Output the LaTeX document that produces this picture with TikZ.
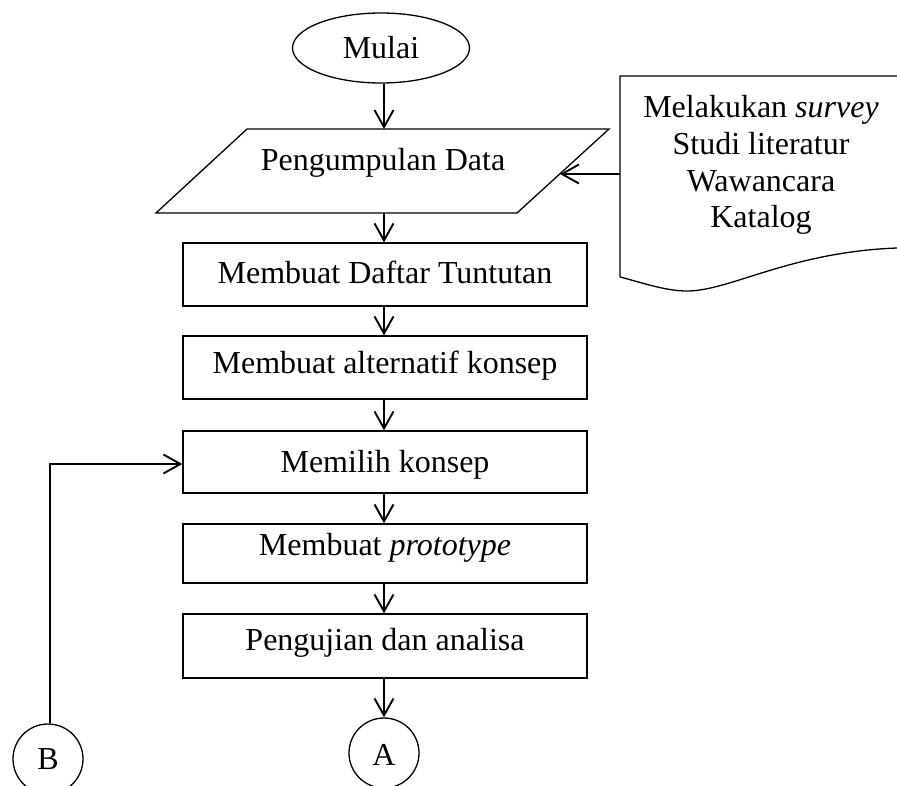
\documentclass[tikz,border=0pt]{standalone}
\usepackage{fontspec}
\setmainfont{Liberation Serif}
\usetikzlibrary{arrows.meta,shapes.geometric}

\tikzset{
  boxline/.style={draw=black,line width=1.3pt},
  txt/.style={anchor=base,inner sep=0pt,font=\fontsize{32}{37}\selectfont},
  conn/.style={line width=1.9pt,-{Straight Barb[length=17pt,width=19pt,line width=1.9pt]}},
  connplain/.style={line width=1.9pt},
  procbox/.style={boxline,rectangle,minimum width=404pt,inner sep=0pt},
  joint/.style={boxline,circle,minimum size=70pt,inner sep=0pt}
}

\begin{document}
\begin{tikzpicture}[x=1pt,y=-1pt]
\useasboundingbox (0,0) rectangle (897,785);

% start terminal
\node[boxline,ellipse,minimum width=177pt,minimum height=70pt,inner sep=0pt] (mulai) at (381,48) {};
\node[txt] (tmulai) at (381,58) {Mulai};

% data input parallelogram
\draw[boxline] (247,129) coordinate (pTL) -- (609,129) coordinate (pTR)
  -- (517,213) coordinate (pBR) -- (156,213) coordinate (pBL) -- cycle;
\coordinate (pTop) at (384,129);
\coordinate (pBot) at (384,213);
\coordinate (pRight) at (560,174);
\node[txt] (tdata) at (383,170) {Pengumpulan Data};

% process boxes
\node[procbox,minimum height=63pt] (b1) at (385,274.5) {};
\node[txt] (t1) at (385,283) {Membuat Daftar Tuntutan};
\node[procbox,minimum height=63pt] (b2) at (385,367.5) {};
\node[txt] (t2) at (385,373) {Membuat alternatif konsep};
\node[procbox,minimum height=62pt] (b3) at (385,462) {};
\node[txt] (t3) at (385,472) {Memilih konsep};
\node[procbox,minimum height=59pt] (b4) at (385,553.5) {};
\node[txt] (t4) at (385,555) {Membuat \textit{prototype}};
\node[procbox,minimum height=64pt] (b5) at (385,646) {};
\node[txt] (t5) at (385,650) {Pengujian dan analisa};

% off-page connectors
\node[joint] (ca) at (384,753) {};
\node[txt] (tca) at (384,765) {A};
\node[joint] (cb) at (48,759) {};
\node[txt] (tcb) at (48,769) {B};

% document shape with data sources
\draw[boxline] (620,277) coordinate (dBL) -- (620,76) coordinate (dTL) -- (960,76) -- (960,247)
  -- (897,248) .. controls (790,252) and (730,291) .. (687,291)
  .. controls (665,291) and (640,282) .. (dBL);
\coordinate (dLeft) at (620,174);
\node[txt] (s1) at (761,117) {Melakukan \textit{survey}};
\node[txt] (s2) at (761,154) {Studi literatur};
\node[txt] (s3) at (761,191) {Wawancara};
\node[txt] (s4) at (761,227) {Katalog};

% connectors
\draw[conn] (mulai.south -| pTop) -- (pTop);
\draw[conn] (dLeft) -- (pRight);
\draw[conn] (pBot) -- (b1.north -| pBot);
\draw[conn] (b1.south -| pBot) -- (b2.north -| pBot);
\draw[conn] (b2.south -| pBot) -- (b3.north -| pBot);
\draw[conn] (b3.south -| pBot) -- (b4.north -| pBot);
\draw[conn] (b4.south -| pBot) -- (b5.north -| pBot);
\draw[conn] (b5.south -| ca) -- (ca.north);
\coordinate (bend) at (50,464);
\draw[conn] (cb.north -| bend) -- (bend) -- (bend -| b3.west);
\end{tikzpicture}
\end{document}
